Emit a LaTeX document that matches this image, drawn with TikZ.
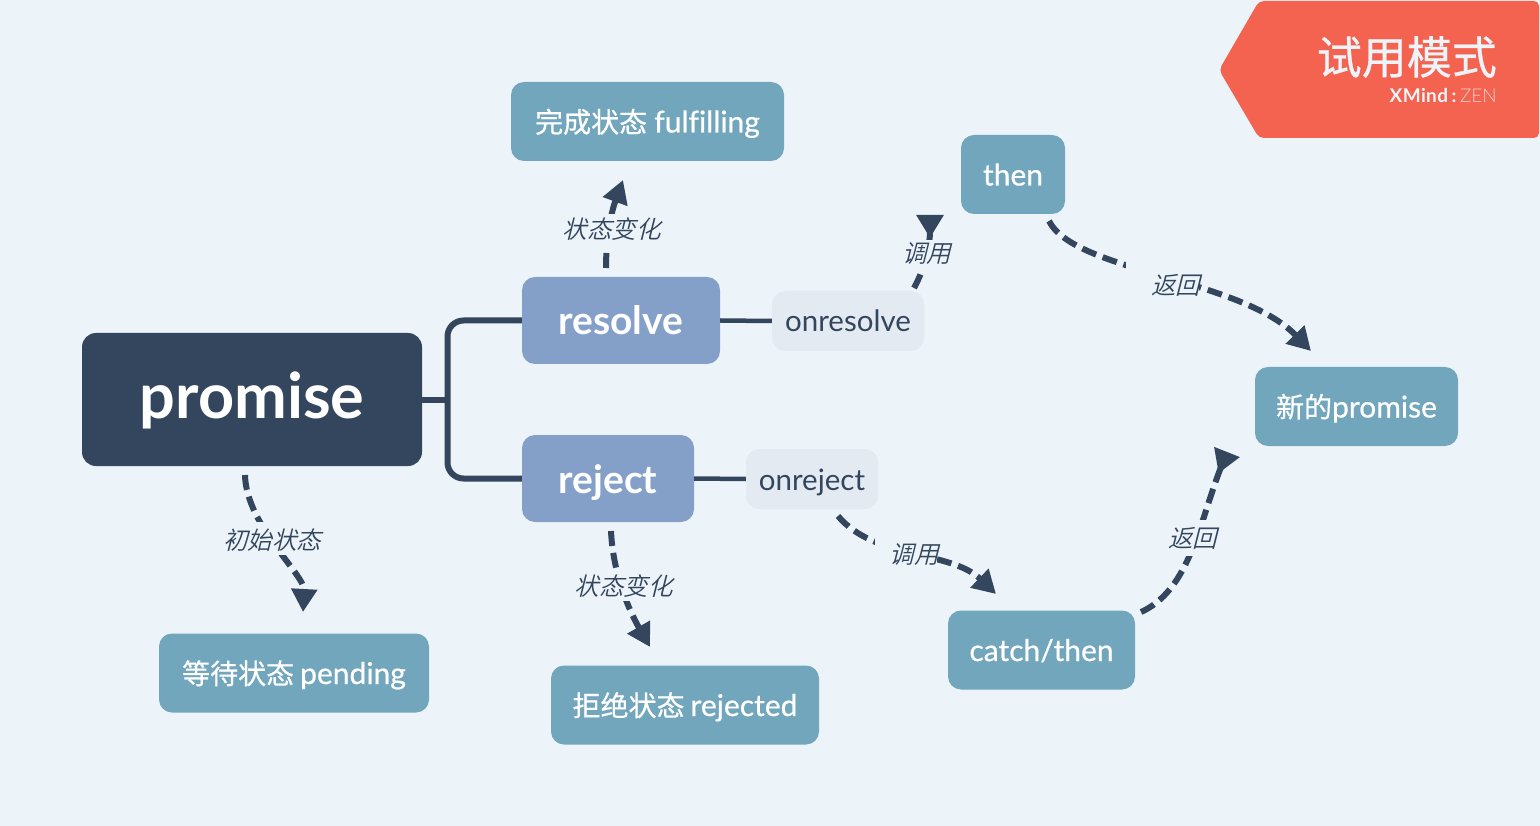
\documentclass[tikz,border=0pt]{standalone}
\usepackage{fontspec}
\usetikzlibrary{arrows.meta}
\setmainfont{Lato}[Ligatures=NoCommon]
\newfontfamily\cjk[FakeBold=0.6]{Noto Sans CJK SC}
\newfontfamily\cjkit[FakeSlant=0.25]{Noto Sans CJK SC DemiLight}
\newfontfamily\latsemi[FakeBold=0.6,Ligatures=NoCommon]{Lato}
\definecolor{bgc}{HTML}{ECF4FA}
\definecolor{navy}{HTML}{34465E}
\definecolor{midblue}{HTML}{84A0C8}
\definecolor{teal}{HTML}{72A6BD}
\definecolor{pale}{HTML}{E3EAF2}
\definecolor{badge}{HTML}{F4634F}
\tikzset{
  x=1pt,y=-1pt,
  boxbase/.style={rounded corners=13pt,inner sep=0pt,text=white},
  rootbox/.style={boxbase,fill=navy,rounded corners=14pt,text height=46pt,text depth=8pt,font=\fontsize{63}{66}\selectfont\bfseries},
  mainbox/.style={boxbase,fill=midblue,text height=33pt,text depth=4pt,font=\fontsize{39}{42}\selectfont\bfseries},
  subbox/.style={boxbase,fill=pale,text=navy,text height=27pt,text depth=5pt,font=\fontsize{29.5}{34}\selectfont},
  leafbox/.style={boxbase,fill=teal,text height=28pt,text depth=6pt,font=\fontsize{30}{34}\selectfont\latsemi},
  tree/.style={draw=navy,line width=6pt},
  rel/.style={draw=navy,line width=6pt,dash pattern=on 15pt off 7pt},
  tipa/.style={rel,-{Triangle[length=23pt,width=25pt]}},
  tipr/.style={rel,-{Triangle[reversed,length=23pt,width=26pt]}},
  mask/.style={fill=bgc,draw=none},
  lab/.style={inner sep=0pt,text=navy,font=\fontsize{24.5}{28}\selectfont\cjkit},
}
\newcommand{\zh}[1]{{\fontsize{28}{34}\selectfont\cjk #1}}
\begin{document}
\begin{tikzpicture}
\useasboundingbox (0,0) rectangle (1540,826);
\fill[bgc] (0,0) rectangle (1540,826);
% badge
\fill[badge,rounded corners=5pt] (1259,1) -- (1539,1) -- (1539,138) -- (1259,138) -- (1219,70) -- cycle;
\node[inner sep=0pt,anchor=east,text=bgc,font=\fontsize{45}{50}\selectfont\cjk] (trial) at (1497,57) {试用模式};
\node[inner sep=0pt,anchor=east,text=bgc,font=\fontsize{19}{20}\selectfont] (brand) at (1497,96) {\addfontfeature{LetterSpace=2}\textbf{XMind}\,\textbf{:}\,{\fontspec{Lato Light}\color{bgc!75!badge}ZEN}};
% nodes
\node[rootbox,minimum width=340pt,minimum height=133pt] (promise) at (252,399.5) {promise};
\node[mainbox,minimum width=198pt,minimum height=87pt] (resolve) at (621,320.5) {resolve};
\node[mainbox,minimum width=172pt,minimum height=87pt] (reject) at (608,478.5) {reject};
\node[subbox,minimum width=152pt,minimum height=60pt] (onresolve) at (848,321) {onresolve};
\node[subbox,minimum width=132pt,minimum height=60pt] (onreject) at (812,479) {onreject};
\node[leafbox,minimum width=273pt,minimum height=79pt] (fulfilling) at (647.5,121.5) {\zh{完成状态}\hspace{7pt}fulfilling};
\node[leafbox,minimum width=104pt,minimum height=79pt] (then) at (1013,174.5) {then};
\node[leafbox,minimum width=203pt,minimum height=79pt] (newp) at (1356.5,406.5) {\zh{新的}promise};
\node[leafbox,minimum width=187pt,minimum height=79pt] (catch) at (1041.5,650) {catch/then};
\node[leafbox,minimum width=270pt,minimum height=79pt] (pending) at (294,673) {\zh{等待状态}\hspace{6pt}pending};
\node[leafbox,minimum width=268pt,minimum height=79pt] (rejected) at (685,705) {\zh{拒绝状态}\hspace{6pt}rejected};
% connector ends
\coordinate (j) at (447.5,399.5);
\coordinate (a1) at (245,475);   \coordinate (a2) at (303,612);
\coordinate (b1) at (611,531);   \coordinate (b2) at (650,647);
\coordinate (c1) at (606,268);   \coordinate (c2) at (623,180);
\coordinate (d1) at (914,288);   \coordinate (d2) at (930,215);
\coordinate (e1) at (1049,221);  \coordinate (e2) at (1311,351);
\coordinate (f1) at (838,516);   \coordinate (f2) at (996,594);
\coordinate (g1) at (1141,612);  \coordinate (g2) at (1227,452);
% tree
\draw[tree] (promise.east) -- (j);
\draw[tree,rounded corners=16pt] (resolve.west) -- (447.5,320.5) -- (447.5,478.5) -- (reject.west);
\draw[tree,line width=4.5pt] (resolve.east) -- (onresolve.west);
\draw[tree,line width=4.5pt] (reject.east) -- (onreject.west);
% relationships
\draw[tipa] (a1) .. controls (246,525) and (305,575) .. (a2);
\draw[tipa] (b1) .. controls (613,575) and (630,612) .. (b2);
\draw[tipa,dash pattern=on 15pt off 38pt on 30pt] (c1) .. controls (606,235) and (612,210) .. (c2);
\draw[tipr] (d1) .. controls (925,268) and (930,245) .. (d2);
\draw[tipa] (e1) .. controls (1075,272) and (1240,278) .. (e2);
\draw[tipa] (f1) .. controls (875,560) and (950,550) .. (f2);
\draw[tipr] (g1) .. controls (1190,590) and (1200,520) .. (g2);
% gaps under the labels
\fill[mask] (212,522) rectangle (330,555);
\fill[mask] (570,570) rectangle (680,601);
\fill[mask] (560,214) rectangle (665,247);
\fill[mask] (900,240) rectangle (955,270);
\fill[mask] (1126,258) rectangle (1199,302);
\fill[mask] (875,530) rectangle (937,572);
\fill[mask] (1160,520) rectangle (1225,556);
% labels
\node[lab] (la) at (272,540) {初始状态};
\node[lab] (lb) at (623.5,586) {状态变化};
\node[lab] (lc) at (611.5,229) {状态变化};
\node[lab] (ld) at (926.5,254) {调用};
\node[lab] (le) at (1175.5,285) {返回};
\node[lab] (lf) at (914,555) {调用};
\node[lab] (lg) at (1192.5,538) {返回};
\end{tikzpicture}
\end{document}
